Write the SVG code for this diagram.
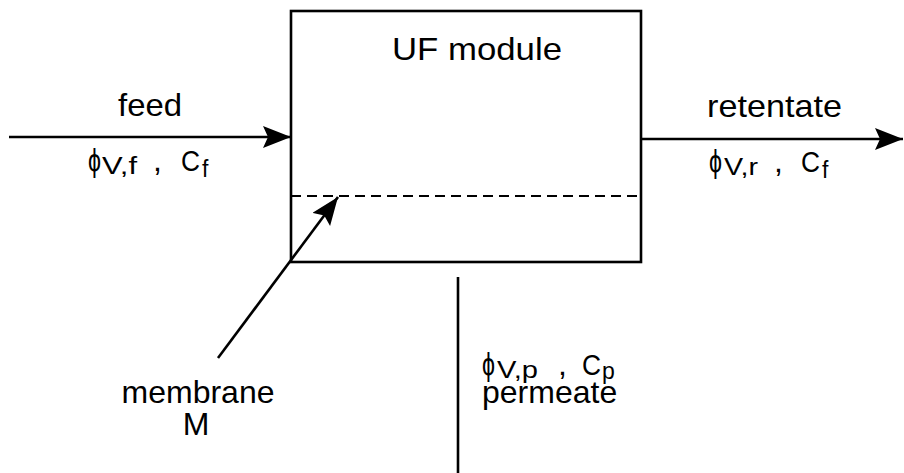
<svg xmlns="http://www.w3.org/2000/svg" width="904" height="473" viewBox="0 0 904 473">
<style>
text{font-family:"Liberation Sans",Arial,"DejaVu Sans",sans-serif;font-size:32px;fill:#000}
.sub{font-size:23px}
.c{font-size:29px}
.ln{stroke:#000;stroke-width:2.6;fill:none}
</style>
<defs>
<marker id="ah" markerUnits="userSpaceOnUse" markerWidth="30" markerHeight="24" refX="28" refY="11" orient="auto">
<path d="M0,0 L28,11 L0,22 L5,11 Z" fill="#000"/>
</marker>
</defs>
<rect width="904" height="473" fill="#fff"/>
<g id="uf-module">
<rect class="ln" x="291" y="11" width="350" height="251"/>
<line x1="291" y1="196" x2="641" y2="196" stroke="#000" stroke-width="2" stroke-dasharray="10,6"/>
<text x="392" y="60" textLength="170" lengthAdjust="spacingAndGlyphs">UF  module</text>
</g>
<g id="connectors">
<line class="ln" x1="9" y1="137" x2="291" y2="137" marker-end="url(#ah)"/>
<line class="ln" x1="641" y1="139" x2="903" y2="139" marker-end="url(#ah)"/>
<line class="ln" x1="458" y1="277" x2="458" y2="473"/>
<line class="ln" x1="218" y1="358" x2="338" y2="197" marker-end="url(#ah)"/>
</g>
<g id="feed-label">
<text x="118" y="116" textLength="64" lengthAdjust="spacingAndGlyphs">feed</text>
<text x="88" y="171" textLength="13" lengthAdjust="spacingAndGlyphs">ϕ</text>
<text class="sub" x="102" y="174" textLength="35" lengthAdjust="spacingAndGlyphs">V,f</text>
<text x="153" y="171">,</text>
<text class="c" x="181" y="171" textLength="19" lengthAdjust="spacingAndGlyphs">C</text>
<text class="sub" x="202" y="177">f</text>
</g>
<g id="retentate-label">
<text x="707" y="117" textLength="135" lengthAdjust="spacingAndGlyphs">retentate</text>
<text x="709" y="172" textLength="13" lengthAdjust="spacingAndGlyphs">ϕ</text>
<text class="sub" x="724" y="175" textLength="34" lengthAdjust="spacingAndGlyphs">V,r</text>
<text x="774" y="172">,</text>
<text class="c" x="801" y="172" textLength="19" lengthAdjust="spacingAndGlyphs">C</text>
<text class="sub" x="822" y="178">f</text>
</g>
<g id="permeate-label">
<text x="482" y="375" textLength="13" lengthAdjust="spacingAndGlyphs">ϕ</text>
<text class="sub" x="497" y="378" textLength="41" lengthAdjust="spacingAndGlyphs">V,p</text>
<text x="558" y="375">,</text>
<text class="c" x="582" y="375" textLength="19" lengthAdjust="spacingAndGlyphs">C</text>
<text class="sub" x="602" y="379">p</text>
<text x="482" y="403">permeate</text>
</g>
<g id="membrane-label">
<text x="198" y="403" text-anchor="middle">membrane</text>
<text x="196" y="435" text-anchor="middle">M</text>
</g>
</svg>
